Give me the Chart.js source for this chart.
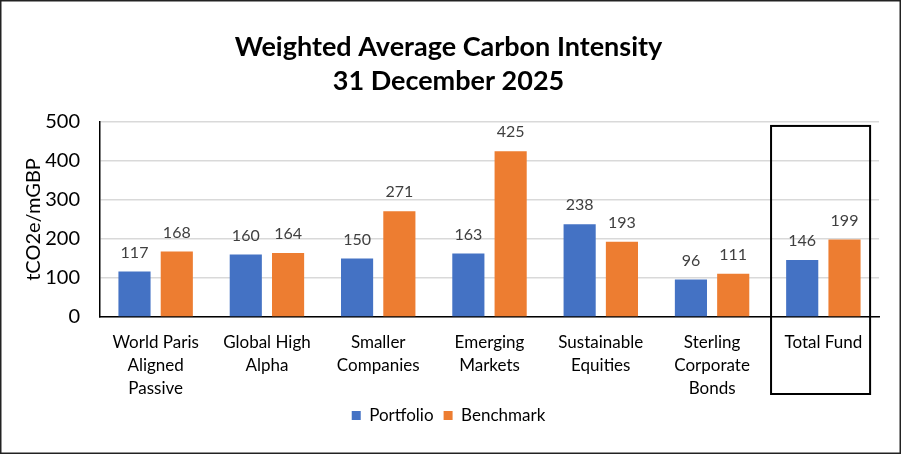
<!DOCTYPE html>
<html><head><meta charset="utf-8">
<script src="https://cdn.jsdelivr.net/npm/chart.js@4"></script>
<style>html,body{margin:0;padding:0;background:#fff}#wrap{width:901px;height:454px;position:relative}</style>
</head><body><div id="wrap"><canvas id="c"></canvas></div>
<script>
const categories = [["World Paris","Aligned","Passive"],["Global High","Alpha"],["Smaller","Companies"],["Emerging","Markets"],["Sustainable","Equities"],["Sterling","Corporate","Bonds"],["Total Fund"]];
const portfolio = [117,160,150,163,238,96,146];
const benchmark = [168,164,271,425,193,111,199];
const yTicks = [0,100,200,300,400,500];
const titleLines = ["Weighted Average Carbon Intensity","31 December 2025"];
const FONT = "Lato, 'Open Sans', sans-serif";

const extras = {
  id:'extras',
  afterDatasetsDraw(chart){
    const ctx = chart.ctx;
    ctx.save();
    ctx.font = "16px " + FONT;
    ctx.fillStyle = "#404040";
    ctx.textAlign = "center";
    ctx.textBaseline = "bottom";
    chart.data.datasets.forEach((ds,i)=>{
      chart.getDatasetMeta(i).data.forEach((bar,j)=>{
        ctx.fillText(String(ds.data[j]), bar.x, bar.y - 11);
      });
    });
    // box around last category
    const xs = chart.scales.x, ys = chart.scales.y;
    const n = categories.length-1;
    const step = xs.getPixelForValue(1) - xs.getPixelForValue(0);
    const cx = xs.getPixelForValue(n);
    ctx.strokeStyle = "#000"; ctx.lineWidth = 2;
    const top = ys.getPixelForValue(490);
    const bottom = chart.chartArea.bottom + 77;
    ctx.strokeRect(cx - step*0.47, top, step*0.89, bottom-top);
    ctx.restore();
  },
  afterDraw(chart){
    const ctx = chart.ctx;
    ctx.save();
    ctx.strokeStyle = "#222"; ctx.lineWidth = 1.5;
    ctx.strokeRect(0.75,0.75,chart.width-1.5,chart.height-1.5);
    ctx.restore();
  }
};

new Chart(document.getElementById('c'),{
  type:'bar',
  data:{labels:categories,datasets:[
    {label:'Portfolio',data:portfolio,backgroundColor:'#4472C4',categoryPercentage:0.76,barPercentage:0.76},
    {label:'Benchmark',data:benchmark,backgroundColor:'#ED7D31',categoryPercentage:0.76,barPercentage:0.76}
  ]},
  options:{
    responsive:true,maintainAspectRatio:false,animation:false,devicePixelRatio:1,
    layout:{padding:{left:18,right:22,top:0,bottom:20}},
    plugins:{
      title:{display:true,text:titleLines,color:'#000',font:{family:FONT,size:27,weight:'bold',lineHeight:1.26},padding:{top:30,bottom:24}},
      legend:{position:'bottom',labels:{font:{family:FONT,size:17},color:'#000',boxWidth:9,boxHeight:9,padding:10}},
      tooltip:{enabled:false}
    },
    scales:{
      x:{grid:{display:false},border:{color:'#000',width:1.5},
         ticks:{color:'#000',font:{family:FONT,size:17,lineHeight:1.35},padding:6,maxRotation:0,autoSkip:false},
         afterFit(s){s.height=80; s._computeLabelArea = function(){ return undefined; };}},
      y:{min:0,max:500,afterBuildTicks(s){s.ticks=yTicks.map(v=>({value:v}));},
         grid:{color:'#d9d9d9',lineWidth:1.5,drawTicks:false},border:{color:'#000',width:1.5},
         ticks:{color:'#000',font:{family:FONT,size:20},padding:20},
         title:{display:true,text:'tCO2e/mGBP',color:'#000',font:{family:FONT,size:20},padding:{bottom:6}},
         afterFit(s){s.width=82;}
      }
    }
  },
  plugins:[extras]
});
</script></body></html>
